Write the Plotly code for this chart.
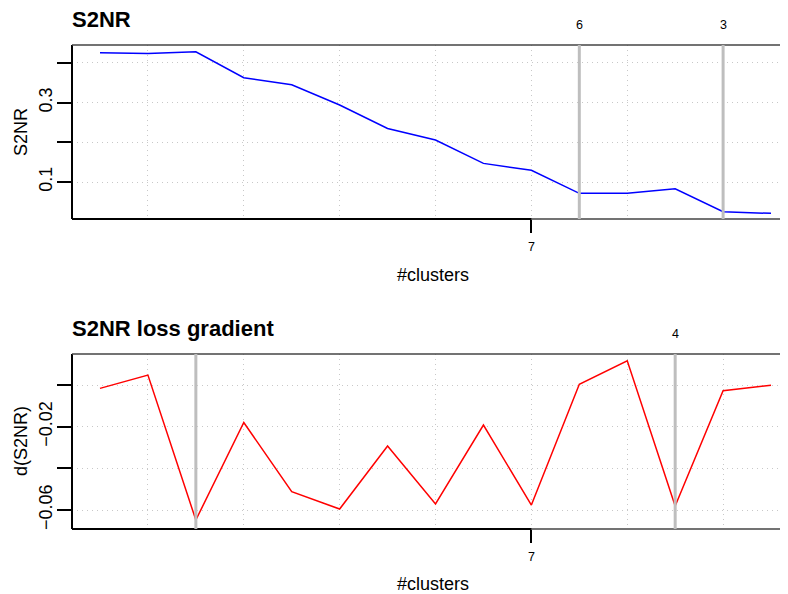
import plotly.graph_objects as go

clusters = [16, 15, 14, 13, 12, 11, 10, 9, 8, 7, 6, 5, 4, 3, 2]
s2nr = [0.4257, 0.424, 0.428, 0.3627, 0.345, 0.294, 0.235, 0.2058, 0.147, 0.1295,
        0.0715, 0.0715, 0.083, 0.025, 0.021]
s2nr_grad = [-0.0016, 0.0048, -0.0648, -0.018, -0.0512, -0.0595, -0.0293, -0.0571,
             -0.0192, -0.0576, 0.0004, 0.0116, -0.0581, -0.0027, -0.0001]

x_tickvals = [7]
x_ticktext = ["7"]
x_gridvals = [15, 13, 11, 9, 5, 3]

top_yticks = [0.1, 0.2, 0.3, 0.4]
top_yticktext = ["0.1", "", "0.3", ""]
bot_yticks = [0.0, -0.02, -0.04, -0.06]
bot_yticktext = ["", "\u22120.02", "", "\u22120.06"]

top_marks = [6, 3]
top_mark_labels = ["6", "3"]
bot_marks = [14, 4]
bot_mark_labels = ["", "4"]

# page body has an 8px margin; the figure covers screen pixels 8..788 x 8..594
OFF = 8
W, H = 788 - OFF, 594 - OFF
FONT = "Liberation Sans, Arial, sans-serif"

def px_x(p):
    return (p - OFF) / W

def px_y(p):
    return 1 - (p - OFF) / H

fig = go.Figure()
fig.add_trace(go.Scatter(x=clusters, y=s2nr, mode="lines",
                         line=dict(color="#0000FF", width=1.5),
                         xaxis="x", yaxis="y", showlegend=False))
fig.add_trace(go.Scatter(x=clusters, y=s2nr_grad, mode="lines",
                         line=dict(color="#FF0000", width=1.5),
                         xaxis="x2", yaxis="y2", showlegend=False))

GRID = "#C8C8C8"
GDASH = "1px,4px"
xr = [16.584, 1.646]
xcommon = dict(range=xr, tickvals=x_tickvals, ticktext=x_ticktext,
               showgrid=True, gridcolor=GRID, griddash=GDASH, gridwidth=1,
               ticks="outside", ticklen=13, tickwidth=1.5, tickcolor="black",
               tickfont=dict(family=FONT, size=12.5, color="black"),
               ticklabelstandoff=3,
               showline=False, zeroline=False,
               minor=dict(tickvals=x_gridvals, showgrid=True, gridcolor=GRID,
                          griddash=GDASH, gridwidth=1, ticks=""),
               domain=[px_x(72), 1.0])
ycommon = dict(showgrid=True, gridcolor=GRID, griddash=GDASH, gridwidth=1,
               ticks="outside", ticklen=14, tickwidth=1.5, tickcolor="black",
               tickfont=dict(family=FONT, size=18, color="black"),
               ticklabelstandoff=-2,
               tickangle=-90, showline=False, zeroline=False)

fig.update_layout(
    width=W, height=H,
    margin=dict(l=0, r=0, t=0, b=0),
    paper_bgcolor="white", plot_bgcolor="white",
    font=dict(family=FONT, color="black"),
    xaxis=dict(anchor="y", **xcommon),
    xaxis2=dict(anchor="y2", **xcommon),
    yaxis=dict(anchor="x", domain=[px_y(219), px_y(45)], range=[0.0068, 0.4453],
               tickvals=top_yticks, ticktext=top_yticktext, **ycommon),
    yaxis2=dict(anchor="x2", domain=[px_y(529), px_y(354)], range=[-0.0691, 0.0149],
                tickvals=bot_yticks, ticktext=bot_yticktext, **ycommon),
)

shapes = []
for xa, ya in (("x", "y"), ("x2", "y2")):
    shapes.append(dict(type="line", xref=f"{xa} domain", yref=f"{ya} domain",
                       x0=0, x1=0, y0=0, y1=1, line=dict(color="black", width=2)))
    shapes.append(dict(type="line", xref=f"{xa} domain", yref=f"{ya} domain",
                       x0=0, x1=1, y0=1, y1=1, line=dict(color="#444444", width=1.5)))
    shapes.append(dict(type="line", xref=f"{xa} domain", yref=f"{ya} domain",
                       x0=0, x1=1, y0=0, y1=0, line=dict(color="#444444", width=1.5)))
    shapes.append(dict(type="line", xref=xa, yref=f"{ya} domain",
                       x0=xr[0], x1=x_tickvals[0], y0=0, y1=0,
                       line=dict(color="black", width=2)))

annotations = []
for xv, lab in zip(top_marks, top_mark_labels):
    shapes.append(dict(type="line", xref="x", yref="y domain", x0=xv, x1=xv, y0=0, y1=1,
                       line=dict(color="#BEBEBE", width=3), layer="above"))
    if lab:
        annotations.append(dict(x=xv, xref="x", y=px_y(25), yref="paper", text=lab,
                                showarrow=False, xanchor="center", yanchor="middle",
                                font=dict(size=12.5, family=FONT)))
for xv, lab in zip(bot_marks, bot_mark_labels):
    shapes.append(dict(type="line", xref="x2", yref="y2 domain", x0=xv, x1=xv, y0=0, y1=1,
                       line=dict(color="#BEBEBE", width=3), layer="above"))
    if lab:
        annotations.append(dict(x=xv, xref="x2", y=px_y(334), yref="paper", text=lab,
                                showarrow=False, xanchor="center", yanchor="middle",
                                font=dict(size=12.5, family=FONT)))

annotations += [
    dict(x=px_x(71), y=px_y(20), xref="paper", yref="paper", text="<b>S2NR</b>",
         showarrow=False, xanchor="left", yanchor="middle", borderpad=0,
         font=dict(size=22, family=FONT)),
    dict(x=px_x(71), y=px_y(328), xref="paper", yref="paper", text="<b>S2NR loss gradient</b>",
         showarrow=False, xanchor="left", yanchor="middle", borderpad=0,
         font=dict(size=22, family=FONT)),
    dict(x=px_x(433), y=px_y(275), xref="paper", yref="paper", text="#clusters",
         showarrow=False, xanchor="center", yanchor="middle", font=dict(size=18, family=FONT)),
    dict(x=px_x(433), y=px_y(584), xref="paper", yref="paper", text="#clusters",
         showarrow=False, xanchor="center", yanchor="middle", font=dict(size=18, family=FONT)),
    dict(x=px_x(21), y=px_y(132), xref="paper", yref="paper", text="S2NR",
         showarrow=False, textangle=-90, xanchor="center", yanchor="middle",
         font=dict(size=18, family=FONT)),
    dict(x=px_x(21), y=px_y(441), xref="paper", yref="paper", text="d(S2NR)",
         showarrow=False, textangle=-90, xanchor="center", yanchor="middle",
         font=dict(size=18, family=FONT)),
]

fig.update_layout(shapes=shapes, annotations=annotations)
fig.write_html("out.html")
